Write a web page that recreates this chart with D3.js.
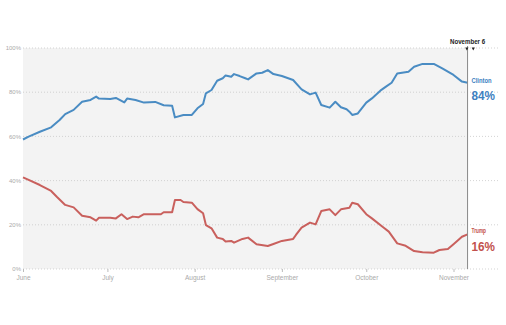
<!DOCTYPE html>
<html><head><meta charset="utf-8">
<script src="https://cdn.jsdelivr.net/npm/d3@7"></script>
<style>body{margin:0;background:#fff}svg{display:block}</style>
</head><body><div id="chart"></div>
<script>
const clintonDates = ["2016-06-01","2016-06-03","2016-06-07","2016-06-11","2016-06-14","2016-06-16","2016-06-19","2016-06-22","2016-06-25","2016-06-27","2016-06-28","2016-07-02","2016-07-04","2016-07-07","2016-07-08","2016-07-11","2016-07-14","2016-07-18","2016-07-21","2016-07-24","2016-07-25","2016-07-28","2016-07-31","2016-08-02","2016-08-04","2016-08-05","2016-08-07","2016-08-09","2016-08-11","2016-08-12","2016-08-14","2016-08-15","2016-08-17","2016-08-19","2016-08-20","2016-08-23","2016-08-25","2016-08-27","2016-08-29","2016-09-01","2016-09-05","2016-09-08","2016-09-11","2016-09-13","2016-09-15","2016-09-18","2016-09-20","2016-09-22","2016-09-24","2016-09-25","2016-09-26","2016-09-28","2016-10-01","2016-10-03","2016-10-06","2016-10-08","2016-10-10","2016-10-12","2016-10-16","2016-10-18","2016-10-21","2016-10-25","2016-10-28","2016-11-01","2016-11-04","2016-11-06"];
const clintonValues = [58.6,59.9,62.1,64.1,67.4,70.1,72.0,75.7,76.5,78.0,77.1,76.9,77.4,75.4,77.1,76.5,75.3,75.6,74.1,73.9,68.6,69.7,69.7,72.7,74.7,79.5,81.0,85.2,86.3,87.6,87.0,88.2,87.3,86.3,85.8,88.5,88.8,90.0,88.2,87.3,85.5,81.3,79.0,79.8,74.2,73.0,75.7,73.2,72.3,71.2,69.7,70.4,75.3,77.2,80.7,82.5,84.3,88.5,89.3,91.5,92.8,92.8,90.8,87.8,84.8,84.3];
const trumpDates = ["2016-06-01","2016-06-03","2016-06-07","2016-06-11","2016-06-13","2016-06-16","2016-06-19","2016-06-22","2016-06-25","2016-06-27","2016-06-28","2016-07-02","2016-07-04","2016-07-06","2016-07-08","2016-07-10","2016-07-12","2016-07-14","2016-07-20","2016-07-21","2016-07-24","2016-07-25","2016-07-27","2016-07-28","2016-07-31","2016-08-02","2016-08-04","2016-08-05","2016-08-07","2016-08-09","2016-08-11","2016-08-12","2016-08-14","2016-08-15","2016-08-18","2016-08-20","2016-08-23","2016-08-27","2016-08-29","2016-09-01","2016-09-05","2016-09-06","2016-09-08","2016-09-11","2016-09-13","2016-09-15","2016-09-18","2016-09-20","2016-09-22","2016-09-25","2016-09-26","2016-09-28","2016-10-01","2016-10-03","2016-10-07","2016-10-09","2016-10-12","2016-10-15","2016-10-18","2016-10-21","2016-10-25","2016-10-27","2016-10-30","2016-11-01","2016-11-04","2016-11-06"];
const trumpValues = [41.5,40.3,38.0,35.3,32.7,29.0,27.9,24.1,23.4,21.9,23.2,23.2,22.9,24.8,22.6,23.7,23.4,24.8,24.8,25.7,25.7,31.2,31.2,30.3,30.0,27.1,25.2,19.9,18.4,14.2,13.6,12.4,12.7,11.9,13.6,14.2,11.2,10.4,11.3,12.7,13.6,15.4,18.7,21.0,20.2,26.2,27.0,24.4,27.0,27.7,30.0,29.3,24.8,22.9,18.9,16.9,11.6,10.5,8.1,7.6,7.4,8.6,9.0,11.2,14.6,15.7];
const yTicks = [0,20,40,60,80,100];
const yTickLabels = ["0%","20%","40%","60%","80%","100%"];
const monthTicks = ["2016-06-01","2016-07-01","2016-08-01","2016-09-01","2016-10-01","2016-11-01"];
const monthLabels = ["June","July","August","September","October","November"];
const endDate = "2016-11-06";
const endLabel = "November 6";
const names = ["Clinton","Trump"];
const finalLabels = ["84%","16%"];

const W = 506, H = 325;
const parse = d3.utcParse("%Y-%m-%d");
const svg = d3.select("#chart").append("svg").attr("width", W).attr("height", H);

const x = d3.scaleUtc().domain([parse("2016-06-01"), parse("2016-11-01")]).range([23, 453.5]);
const y = d3.scaleLinear().domain([0, 100]).range([269, 48]);
const xEnd = x(parse(endDate));

// background
svg.append("rect").attr("x", x.range()[0]).attr("y", y(100)).attr("width", xEnd - x.range()[0]).attr("height", y(0) - y(100)).attr("fill", "#f3f3f3");

// gridlines
svg.append("g").selectAll("line").data(yTicks).join("line")
  .attr("x1", 23).attr("x2", 499).attr("y1", d => y(d)).attr("y2", d => y(d))
  .attr("stroke", "#c8c8c8").attr("stroke-width", 0.8).attr("stroke-dasharray", "1,2");

// y labels
svg.append("g").selectAll("text").data(yTicks).join("text")
  .attr("x", 21).attr("y", d => y(d)).attr("dy", "0.35em").attr("text-anchor", "end")
  .attr("font-family", "Liberation Sans, Arial, sans-serif").attr("font-size", 6).attr("fill", "#aaa")
  .text((d, i) => yTickLabels[i]);

// x axis
const xAxis = d3.axisBottom(x).tickValues(monthTicks.map(parse)).tickFormat((d, i) => monthLabels[i]).tickSize(3).tickPadding(3);
const gx = svg.append("g").attr("transform", `translate(0,${y(0)})`).call(xAxis);
gx.select(".domain").remove();
gx.selectAll(".tick line").attr("stroke", "#bbb");
gx.selectAll(".tick text").attr("font-family", "Liberation Sans, Arial, sans-serif").attr("font-size", 6.5).attr("fill", "#aaa");

// lines
const line = d3.line().x(d => x(d[0])).y(d => y(d[1]));
const cData = clintonDates.map((d, i) => [parse(d), clintonValues[i]]);
const tData = trumpDates.map((d, i) => [parse(d), trumpValues[i]]);
svg.append("path").datum(cData).attr("d", line).attr("fill", "none").attr("stroke", "#4a8cc3").attr("stroke-width", 2).attr("stroke-linejoin", "round");
svg.append("path").datum(tData).attr("d", line).attr("fill", "none").attr("stroke", "#c9605d").attr("stroke-width", 2).attr("stroke-linejoin", "round");

// end line
svg.append("line").attr("x1", xEnd).attr("x2", xEnd).attr("y1", y(100) - 2).attr("y2", y(0)).attr("stroke", "#888").attr("stroke-width", 1);
svg.append("text").attr("x", xEnd).attr("y", 43.5).attr("text-anchor", "middle")
  .attr("font-family", "Liberation Sans, Arial, sans-serif").attr("font-weight", "bold").attr("font-size", 7.5)
  .attr("textLength", 35).attr("lengthAdjust", "spacingAndGlyphs").attr("fill", "#222").text(endLabel);
[xEnd - 0.7, xEnd + 5.7].forEach(cx => {
  svg.append("path").attr("d", `M${cx - 1.6},${47.5}L${cx + 1.6},${47.5}L${cx},${50.5}Z`).attr("fill", "#222");
});

// end labels
const colors = ["#3d80bf", "#c2514d"];
const lastVals = [clintonValues[clintonValues.length - 1], trumpValues[trumpValues.length - 1]];
const nameY = [80.7, 231];
const pctY = [95.3, 246];
names.forEach((n, i) => {
  svg.append("text").attr("x", 471.5).attr("y", nameY[i]).attr("dy", "0.35em")
    .attr("font-family", "Liberation Sans, Arial, sans-serif").attr("font-weight", "bold").attr("font-size", 7)
    .attr("textLength", i === 0 ? 20 : 14.5).attr("lengthAdjust", "spacingAndGlyphs")
    .attr("fill", colors[i]).text(n);
  svg.append("text").attr("x", 471.5).attr("y", pctY[i]).attr("dy", "0.35em")
    .attr("font-family", "Liberation Sans, Arial, sans-serif").attr("font-weight", "bold").attr("font-size", 13.5)
    .attr("textLength", 23.5).attr("lengthAdjust", "spacingAndGlyphs")
    .attr("fill", colors[i]).text(finalLabels[i]);
});
</script></body></html>
